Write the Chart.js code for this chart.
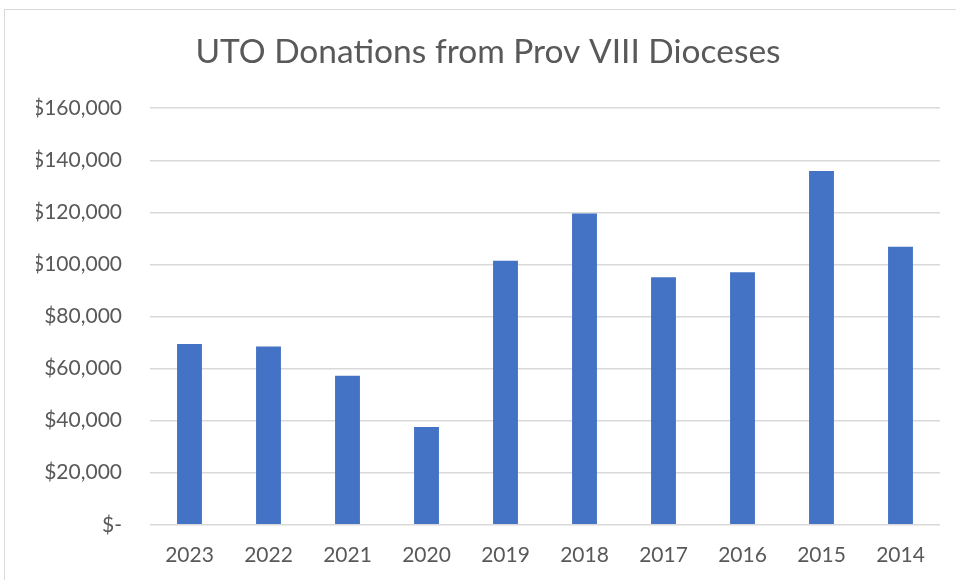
<!DOCTYPE html>
<html>
<head>
<meta charset="utf-8">
<script src="https://cdn.jsdelivr.net/npm/chart.js@4"></script>
<style>
  body { margin: 0; background: #fff; }
  #wrap { position: relative; width: 956px; height: 580px; }
</style>
</head>
<body>
<div id="wrap"><canvas id="chartBar" width="956" height="580"></canvas></div>
<script>
// Данные графика
const years = ['2023', '2022', '2021', '2020', '2019', '2018', '2017', '2016', '2015', '2014'];
const donations = [69400, 68500, 57200, 37600, 101400, 119600, 95100, 97000, 135900, 106800];
const yTicks = [0, 20000, 40000, 60000, 80000, 100000, 120000, 140000, 160000];

const textColor = '#595959';

// Рамка вокруг области диаграммы (как в Excel)
const frame = {
  id: 'frame',
  beforeDraw(chart) {
    const ctx = chart.ctx;
    ctx.save();
    ctx.fillStyle = '#fff';
    ctx.fillRect(0, 0, chart.width, chart.height);
    ctx.strokeStyle = '#d9d9d9';
    ctx.lineWidth = 1;
    ctx.strokeRect(4.5, 9.5, chart.width + 10, chart.height + 10);
    ctx.restore();
  }
};

const cht = document.getElementById('chartBar');

new Chart(cht, {
  type: 'bar',
  data: {
    labels: years,
    datasets: [{
      data: donations,
      backgroundColor: '#4472C4',
      barPercentage: 0.315,
      categoryPercentage: 1
    }]
  },
  options: {
    responsive: false,
    animation: false,
    layout: { padding: { left: 36, right: 16, top: 10, bottom: 2 } },
    plugins: {
      legend: { display: false },
      tooltip: { enabled: false },
      title: {
        display: true,
        text: 'UTO Donations from Prov VIII Dioceses',
        color: textColor,
        font: { family: 'Lato', size: 33.5, weight: 'normal' },
        padding: { top: 22, bottom: 36 }
      }
    },
    scales: {
      x: {
        grid: { display: false },
        border: { display: false },
        ticks: {
          color: textColor,
          font: { family: 'Lato', size: 21 },
          padding: 10
        }
      },
      y: {
        min: 0,
        max: yTicks[yTicks.length - 1],
        afterBuildTicks: (axis) => { axis.ticks = yTicks.map(v => ({ value: v })); },
        afterFit: (axis) => { axis.width = 114; },
        grid: { color: '#d9d9d9', lineWidth: 1.5, drawTicks: false },
        border: { display: false },
        ticks: {
          color: textColor,
          font: { family: 'Lato', size: 21 },
          padding: 28,
          callback: function(value) {
            return value === 0 ? '$-' : '$' + value.toLocaleString('en-US');
          }
        }
      }
    }
  },
  plugins: [frame]
});
</script>
</body>
</html>
